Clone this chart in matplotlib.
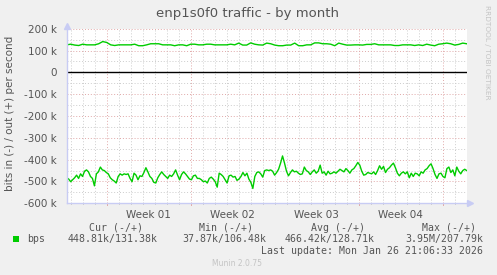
import numpy as np
import matplotlib
matplotlib.use("Agg")
import matplotlib.pyplot as plt

# traffic in (plotted negative), k bits/s, one value every ~4 hours
bits_in = [
    -483, -489, -501, -492, -483, -471, -486, -465, -477, -453, -447, -456, -477, -486, -520, -465, -456, -434,
    -447, -450, -459, -465, -483, -492, -498, -507, -477, -465, -471, -465, -468, -465, -486, -501, -462, -471,
    -492, -474, -477, -459, -437, -456, -477, -486, -504, -507, -483, -468, -456, -468, -477, -486, -471, -477,
    -465, -447, -471, -492, -468, -456, -465, -477, -489, -492, -474, -471, -486, -486,
    -492, -501, -498, -507, -486, -480, -489, -501, -526, -462, -468, -477, -492, -507, -474, -471, -480, -477,
    -495, -489, -477, -459, -474, -462, -489, -504, -532, -477, -459, -456, -465, -480, -450, -447, -450, -447,
    -453, -471, -459, -444, -416, -383, -416, -453, -474, -459, -447, -456, -453, -462, -468, -465, -434, -450,
    -456, -468, -456, -447, -462, -453, -425, -462, -456, -471, -453, -465, -462, -456,
    -462, -453, -444, -450, -456, -441, -450, -462, -447, -441, -428, -413, -425, -453, -471, -468, -459, -462,
    -465, -456, -468, -450, -428, -444, -431, -459, -444, -437, -425, -416, -437, -462, -474, -462, -456, -465,
    -456, -483, -462, -477, -462, -465, -474, -456, -462, -447, -441, -428, -419, -441, -468, -486, -465, -462,
    -477, -483, -441, -434, -459, -447, -474, -434, -453, -465, -450, -444, -450,
]

# traffic out, k bits/s, one value every ~8 hours
bits_out = [
    126, 129, 125, 123, 129, 126, 126, 126, 131, 141, 137, 126, 123, 126, 126, 126, 126, 129, 122, 122, 126,
    131, 131, 131, 126, 126, 126, 122, 126, 126, 122, 129, 129, 126, 126, 129, 129, 126, 126, 126, 126, 129,
    126, 134, 125, 125, 135, 129, 126, 125, 134,
    131, 125, 122, 122, 125, 125, 134, 122, 122, 126, 126, 135, 135, 131, 131, 129, 122, 134, 129, 125, 125,
    126, 126, 125, 128, 128, 131, 126, 126, 126, 126, 123, 123, 126, 126, 126, 123, 126, 123, 129, 125, 122,
    129, 131, 134, 131, 125, 128, 134, 131,
]

week_labels = ["Week 01", "Week 02", "Week 03", "Week 04"]
span_days = 33.333
first_week = 3.333  # day offset of Mon, week 01

legend_heads = ["Cur (-/+)", "Min (-/+)", "Avg (-/+)", "Max (-/+)"]
legend_vals = ["448.81k/131.38k", "37.87k/106.48k", "466.42k/128.71k", "3.95M/207.79k"]
last_update = "Last update: Mon Jan 26 21:06:33 2026"

green = "#00cc00"
grey_txt = "#555555"

fig = plt.figure(figsize=(4.97, 2.75), dpi=100, facecolor="#f0f0f0")
W, H = 497.0, 275.0
ax = fig.add_axes([66.7 / W, 1 - 203.3 / H, 400 / W, 174.6 / H])
ax.set_facecolor("white")

t_in = np.linspace(0, span_days, len(bits_in))
t_out = np.linspace(0, span_days, len(bits_out))

ax.set_xlim(0, span_days)
ax.set_ylim(-600, 200)

# grid: minor daily / 50k, major weekly / 100k
for d in np.arange(first_week - 3, span_days, 1.0):
    is_week = abs((d - first_week) % 7) < 1e-6
    ax.axvline(d, color="#e0a8a8" if is_week else "#cccccc", lw=0.7,
               ls=(0, (1, 2)), zorder=1)
for v in range(-550, 201, 50):
    major = v % 100 == 0
    ax.axhline(v, color="#e0a8a8" if major else "#cccccc", lw=0.7,
               ls=(0, (1, 2)), zorder=1)

ax.axhline(0, color="black", lw=1.0, zorder=3)
ax.plot(t_in, bits_in, color=green, lw=1.0, zorder=4)
ax.plot(t_out, bits_out, color=green, lw=1.0, zorder=4)

for s in ["top", "right"]:
    ax.spines[s].set_visible(False)
for s in ["left", "bottom"]:
    ax.spines[s].set_color("#c8ccf4")
    ax.spines[s].set_linewidth(1.0)
    ax.spines[s].set_zorder(5)

# axis arrows
ax.plot([span_days + 0.25], [-600], marker=">", color="#c8ccf4", ms=5,
        clip_on=False, zorder=6)
ax.plot([0], [212], marker="^", color="#c8ccf4", ms=5, clip_on=False, zorder=6)

yt = list(range(-600, 201, 100))
ax.set_yticks(yt)
ax.set_yticklabels([("%d k" % v) if v != 0 else "0" for v in yt])
week_mid = [first_week + 7 * i + 3.5 for i in range(len(week_labels))]
ax.set_xticks(week_mid)
ax.set_xticklabels(week_labels)
ax.tick_params(axis="both", length=0, labelsize=7.5, colors=grey_txt, pad=5)
ax.tick_params(axis="y", pad=7)

# small ticks along the bottom
for d in np.arange(first_week - 3, span_days, 1.0):
    is_week = abs((d - first_week) % 7) < 1e-6
    ax.plot([d, d], [-600, -607 if is_week else -603], color="#e0a8a8" if is_week else "#cccccc",
            lw=0.7, clip_on=False, zorder=2)

fig.text(248 / W, 1 - 13 / H, "enp1s0f0 traffic - by month", ha="center", va="center",
         fontsize=9.5, color=grey_txt)
fig.text(10 / W, 1 - 113 / H, "bits in (-) / out (+) per second", rotation=90,
         ha="center", va="center", fontsize=7.5, color=grey_txt)
fig.text(487 / W, 1 - 5 / H, "RRDTOOL / TOBI OETIKER", rotation=270, ha="center", va="top",
         fontsize=5.3, color="#c4c4c4")

mono = dict(family="DejaVu Sans Mono", fontsize=7.1, color=grey_txt, va="center")
head_x = [116, 226, 338, 449]
val_right = [158, 266, 375, 483]
for hx, h in zip(head_x, legend_heads):
    fig.text(hx / W, 1 - 228 / H, h, ha="center", **mono)
for vx, v in zip(val_right, legend_vals):
    fig.text(vx / W, 1 - 239 / H, v, ha="right", **mono)
fig.text(27 / W, 1 - 239 / H, "bps", ha="left", **mono)
fig.patches.append(plt.Rectangle((13 / W, 1 - 242 / H), 6 / W, 6 / H, transform=fig.transFigure,
                                 facecolor=green, edgecolor="none"))
fig.text(483 / W, 1 - 251 / H, last_update, ha="right", **mono)
fig.text(237 / W, 1 - 264 / H, "Munin 2.0.75", ha="center", va="center", fontsize=5.5,
         color="#c4c4c4")

fig.savefig("out.png", dpi=100, facecolor=fig.get_facecolor())
